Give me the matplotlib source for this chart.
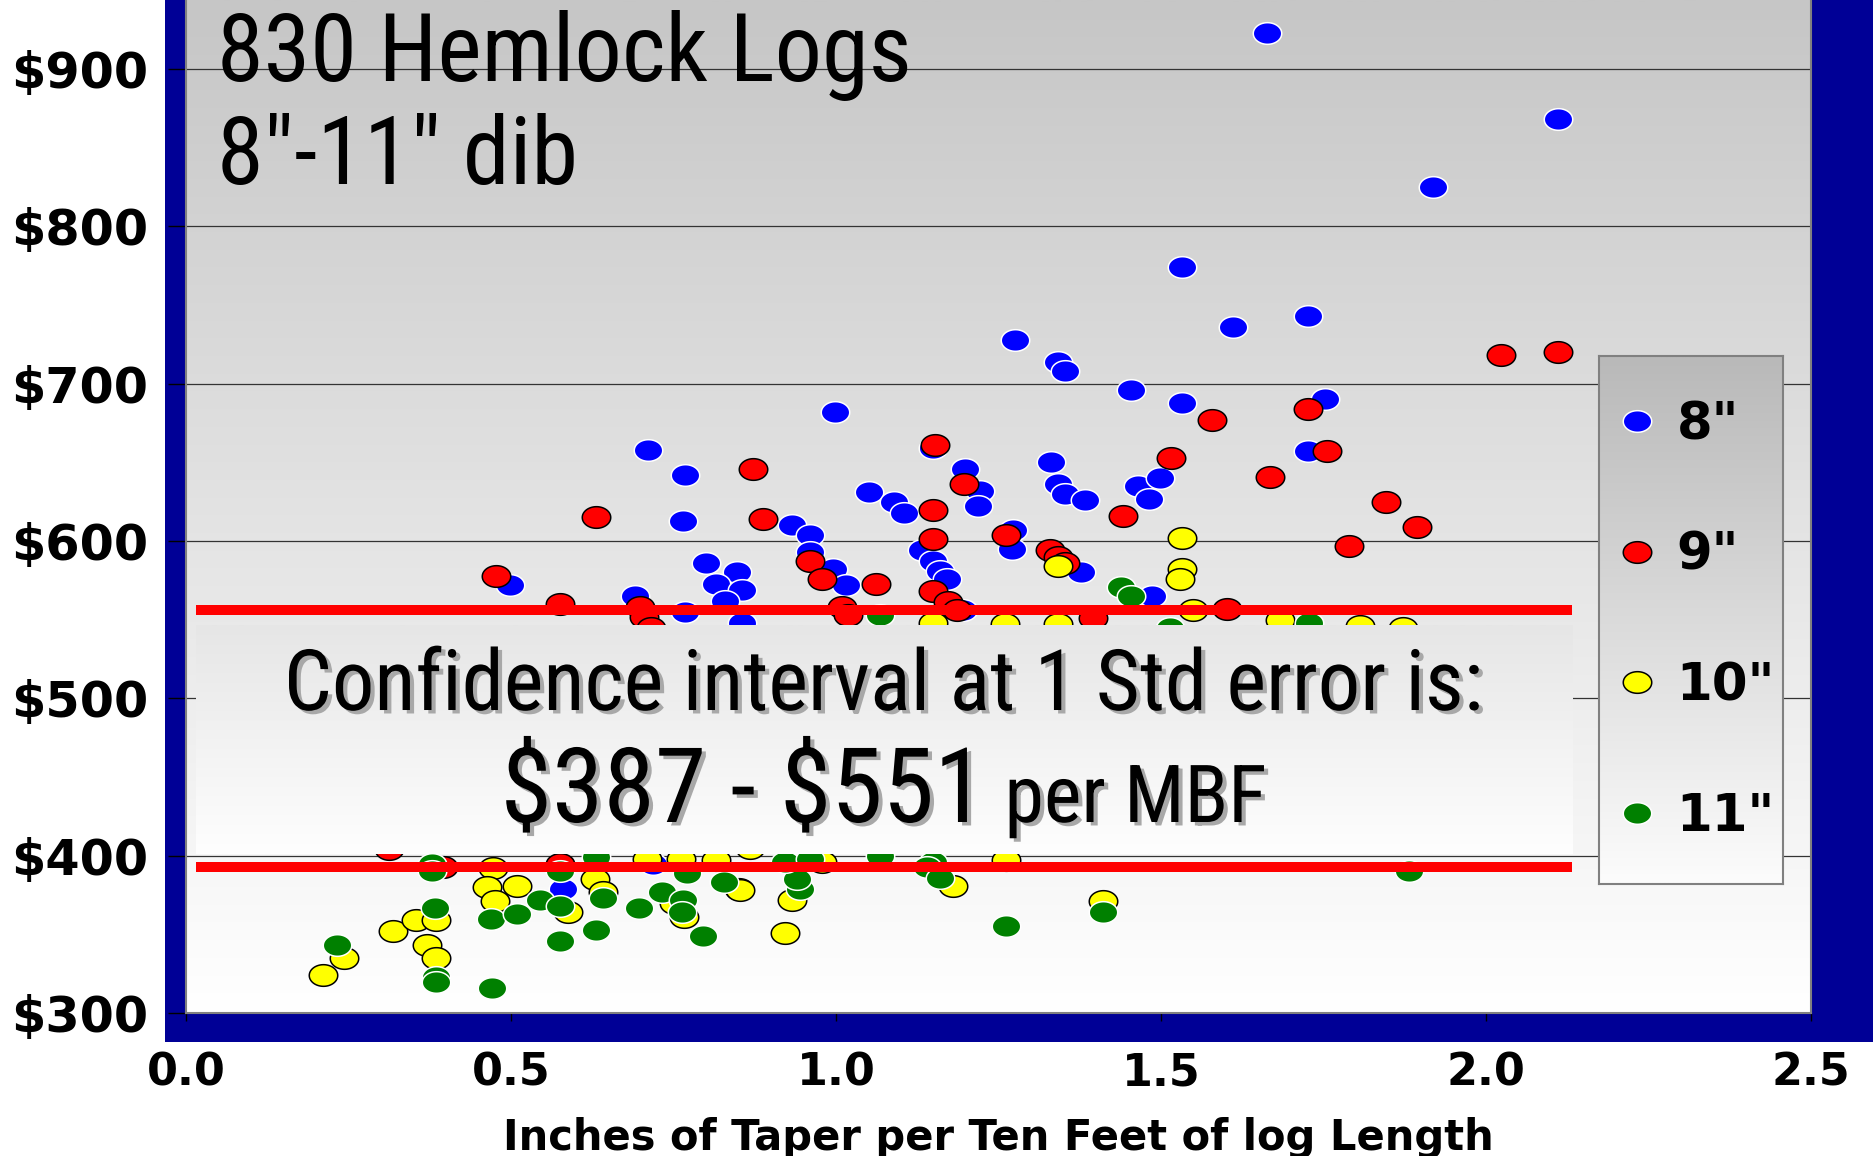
import numpy as np
import matplotlib
matplotlib.use('Agg')
import matplotlib.pyplot as plt
from matplotlib.path import Path
from matplotlib import font_manager as fm
import matplotlib.patheffects as pe

# ---------------- data ----------------
blue_x = [1.663, 2.111, 1.918, 1.533, 1.611, 1.726, 1.275, 1.341, 1.352, 1.454, 1.533, 1.753,
          0.998, 0.711, 0.767, 0.764, 1.331, 1.342, 1.352, 1.383, 1.464, 1.498, 1.482, 1.051,
          1.089, 1.104, 1.198, 1.222, 1.219, 1.273, 1.271, 0.932, 0.960, 0.960, 0.996, 1.016,
          0.800, 0.848, 0.816, 0.855, 0.829, 0.691, 0.498, 0.768, 1.132, 1.150, 1.160, 1.170,
          1.196, 1.150, 1.726, 1.377, 1.486, 0.855, 0.580, 0.718]
blue_y = [923, 868, 825, 774, 736, 743, 728, 714, 708, 696, 688, 690,
          682, 658, 642, 613, 650, 636, 630, 626, 635, 640, 627, 631,
          625, 618, 646, 632, 622, 607, 595, 610, 604, 593, 582, 572,
          586, 580, 573, 569, 562, 565, 572, 555, 594, 587, 581, 576,
          556, 659, 657, 580, 565, 548, 379, 395]

red_x = [2.023, 2.111, 1.578, 1.726, 1.755, 1.515, 1.667, 1.846, 1.894, 1.789, 1.442, 1.601,
         1.152, 1.149, 1.149, 1.149, 1.173, 1.186, 1.197, 0.872, 0.887, 0.960, 0.978, 1.061,
         1.009, 1.019, 0.631, 0.477, 0.575, 0.698, 0.704, 0.716, 1.261, 1.329, 1.342, 1.352,
         1.396, 0.396, 0.313, 0.575]
red_y = [718, 720, 677, 684, 657, 653, 641, 625, 609, 597, 616, 557,
         661, 620, 601, 568, 561, 556, 636, 646, 614, 587, 576, 573,
         558, 553, 615, 578, 560, 558, 552, 545, 604, 594, 590, 586,
         551, 393, 404, 395]

yellow_x = [1.341, 1.533, 1.533, 1.529, 1.549, 1.149, 1.260, 1.341, 1.683, 1.806, 1.872,
            0.473, 0.463, 0.509, 0.475, 0.588, 0.629, 0.642, 0.750, 0.709, 0.761, 0.766,
            0.211, 0.243, 0.319, 0.354, 0.385, 0.370, 0.385, 0.922, 0.932, 0.850, 0.852,
            0.816, 0.868, 0.978, 1.180, 1.262, 1.411]
yellow_y = [584, 602, 582, 576, 556, 548, 547, 547, 550, 546, 545,
            392, 380, 381, 371, 364, 385, 377, 370, 398, 398, 361,
            324, 335, 352, 359, 359, 343, 335, 351, 372, 379, 378,
            397, 405, 396, 381, 397, 371]

green_x = [1.439, 1.454, 1.068, 1.514, 1.727,
           0.379, 0.379, 0.469, 0.509, 0.544, 0.575, 0.575, 0.575, 0.631, 0.641, 0.631,
           0.697, 0.732, 0.765, 0.763, 0.770, 0.795, 0.232, 0.383, 0.384, 0.385, 0.470,
           0.945, 0.940, 0.827, 0.922, 0.960, 1.068, 1.150, 1.140, 1.160, 1.262, 1.411, 1.881]
green_y = [571, 565, 553, 545, 548,
           395, 390, 360, 363, 372, 390, 368, 346, 399, 373, 353,
           367, 377, 372, 364, 389, 349, 343, 367, 323, 320, 316,
           379, 385, 383, 396, 398, 400, 396, 393, 386, 355, 364, 390]

series_labels = ['8"', '9"', '10"', '11"']
series_face = ['#0000ff', '#ff0000', '#ffff00', '#008000']
series_edge = ['white', 'black', 'black', 'white']

x_ticks = [0.0, 0.5, 1.0, 1.5, 2.0, 2.5]
x_tick_labels = ['0.0', '0.5', '1.0', '1.5', '2.0', '2.5']
y_ticks = [300, 400, 500, 600, 700, 800, 900]
y_tick_labels = ['$300', '$400', '$500', '$600', '$700', '$800', '$900']

ci_upper = 556
ci_lower = 393
ci_x_range = (0.015, 2.132)
ci_box_y = (401, 546)

title_line1 = '830 Hemlock Logs'
title_line2 = '8\u2033-11\u2033 dib'
ci_text1 = 'Confidence interval at 1 Std error is:'
ci_text2a = '$387 - $551'
ci_text2b = ' per MBF'
x_label = 'Inches of Taper per Ten Feet of log Length'

# ---------------- fonts ----------------
def pick_narrow():
    names = {f.name for f in fm.fontManager.ttflist}
    for p in ['Liberation Sans Narrow', 'Arial Narrow', 'DejaVu Sans Condensed',
              'Roboto Condensed', 'Open Sans Condensed']:
        if p in names:
            return p, 'normal'
    for f in fm.fontManager.ttflist:
        if f.stretch in ('condensed', 'semi-condensed', 'extra-condensed'):
            return f.name, f.stretch
    return 'DejaVu Sans', 'normal'

NARROW, NSTRETCH = pick_narrow()
BOLD = 'DejaVu Sans'

# ---------------- figure ----------------
W, H, DPI = 1873, 1156, 100
fig = plt.figure(figsize=(W / DPI, H / DPI), dpi=DPI)
fig.patch.set_facecolor('white')

# navy frame behind plot area
fig.patches.append(plt.Rectangle((165 / W, 1 - 1042 / H), 1, 1, transform=fig.transFigure,
                                 facecolor='#000096', edgecolor='none', zorder=-10))

ax = fig.add_axes([186 / W, 1 - 1013 / H, (1811 - 186) / W, 1013 / H])

# gradient background
g = np.linspace(198, 255, 256)[:, None] / 255.0
bg = np.dstack([g, g, g])
ax.imshow(bg, extent=[0, 1, 0, 1], transform=ax.transAxes, aspect='auto', zorder=-2,
          interpolation='bilinear')

# ellipse marker
th = np.linspace(0, 2 * np.pi, 73)
ell = Path(np.column_stack([np.cos(th), 0.76 * np.sin(th)]), closed=True)

handles = []
for xs, ys, fc, ec, lab in zip([blue_x, red_x, yellow_x, green_x],
                               [blue_y, red_y, yellow_y, green_y],
                               series_face, series_edge, series_labels):
    ln, = ax.plot(xs, ys, ls='none', marker=ell, ms=20.5, mfc=fc, mec=ec, mew=1.1,
                  zorder=3, label=lab)
    handles.append(ln)

# confidence box
cb = np.linspace(230, 254, 128)[:, None] / 255.0
cbox = np.dstack([cb, cb, cb])
ax.imshow(cbox, extent=[ci_x_range[0], ci_x_range[1], ci_box_y[0], ci_box_y[1]],
          aspect='auto', zorder=4, interpolation='bilinear')

# red confidence lines
ax.hlines([ci_upper, ci_lower], ci_x_range[0], ci_x_range[1], colors='#ff0000', lw=7.2, zorder=5)

ax.set_xlim(0, 2.5)
ax.set_ylim(300, 943.9)

ax.set_xticks(x_ticks)
ax.set_xticklabels(x_tick_labels)
ax.set_yticks(y_ticks)
ax.set_yticklabels(y_tick_labels)
ax.yaxis.grid(True, color='#333333', lw=0.9)
ax.xaxis.grid(False)
ax.set_axisbelow(True)

ax.tick_params(axis='y', direction='out', length=13, width=1, color='black', pad=14)
ax.tick_params(axis='x', direction='out', length=6, width=1, color='black', pad=22)
for lbl in ax.get_xticklabels():
    lbl.set_fontfamily(BOLD)
    lbl.set_fontweight('bold')
    lbl.set_fontsize(32)
for lbl in ax.get_yticklabels():
    lbl.set_fontfamily(BOLD)
    lbl.set_fontweight('bold')
    lbl.set_fontsize(35.5)

for s in ['left', 'bottom', 'right']:
    ax.spines[s].set_color('#808080')
    ax.spines[s].set_linewidth(1.5)
ax.spines['top'].set_visible(False)

ax.set_xlabel(x_label, fontsize=30, fontweight='bold', family=BOLD)
ax.xaxis.label.set_va('baseline')
ax.xaxis.set_label_coords(0.5, -(1150 - 1013) / 1013)

# title
fig.text(217 / W, 1 - 81 / H, title_line1, fontsize=68, family=[NARROW, 'DejaVu Sans'],
         fontstretch=NSTRETCH, va='baseline', ha='left', color='black')
fig.text(217 / W, 1 - 184 / H, title_line2, fontsize=68, family=[NARROW, 'DejaVu Sans'],
         fontstretch=NSTRETCH, va='baseline', ha='left', color='black')

# confidence text
shadow = [pe.withSimplePatchShadow(offset=(3, -2.5), shadow_rgbFace='#a8a8a8', alpha=1.0)]
xc = (ci_x_range[0] + ci_x_range[1]) / 2
y1 = 300 + (1013 - 710) / 1.5733
y2 = 300 + (1013 - 822) / 1.5733
ax.text(xc, y1, ci_text1, fontsize=61, family=[NARROW, 'DejaVu Sans'], fontstretch=NSTRETCH,
        ha='center', va='baseline', zorder=6, path_effects=shadow, parse_math=False)
t2a = ax.text(xc, y2, ci_text2a, fontsize=75, family=[NARROW, 'DejaVu Sans'], fontstretch=NSTRETCH,
              ha='left', va='baseline', zorder=6, path_effects=shadow, parse_math=False)
t2b = ax.text(xc, y2, ci_text2b, fontsize=57.6, family=[NARROW, 'DejaVu Sans'], fontstretch=NSTRETCH,
              ha='left', va='baseline', zorder=6, path_effects=shadow, parse_math=False)

# legend box with gradient
lax = fig.add_axes([1599 / W, 1 - 884 / H, 184 / W, 528 / H], zorder=1)
lg = np.linspace(185, 252, 128)[:, None] / 255.0
lax.imshow(np.dstack([lg, lg, lg]), extent=[0, 1, 0, 1], aspect='auto', interpolation='bilinear')
lax.set_xlim(0, 1)
lax.set_ylim(0, 1)
lax.set_xticks([])
lax.set_yticks([])
for s in lax.spines.values():
    s.set_color('#808080')
    s.set_linewidth(1.5)

leg = fig.legend(handles=handles, labels=series_labels, loc='upper left',
                 bbox_to_anchor=(1618 / W, 1 - 400 / H), bbox_transform=fig.transFigure,
                 frameon=False, borderpad=0, borderaxespad=0, handlelength=0.72,
                 handletextpad=0.42, labelspacing=1.57, numpoints=1,
                 prop=dict(family=BOLD, weight='bold', size=37))
leg.set_zorder(5)

# center the second confidence line
fig.canvas.draw()
r = fig.canvas.get_renderer()
b1 = t2a.get_window_extent(r)
b2 = t2b.get_window_extent(r)
cx = ax.transData.transform((xc, y2))[0]
left = cx - (b1.width + b2.width) / 2
inv = ax.transData.inverted()
t2a.set_x(inv.transform((left, 0))[0])
t2b.set_x(inv.transform((left + b1.width, 0))[0])

fig.savefig('out.png', dpi=DPI)
